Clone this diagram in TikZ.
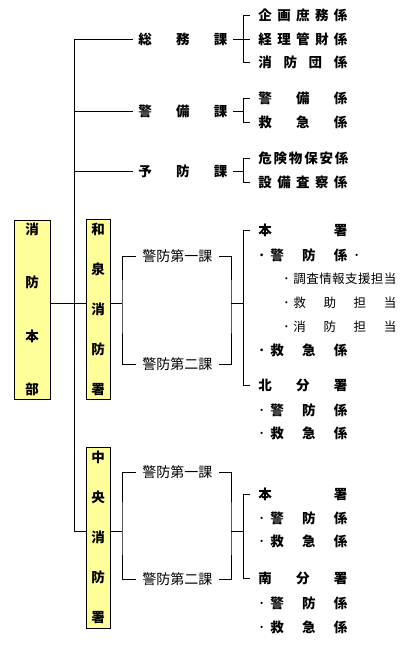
\documentclass[tikz,border=0pt]{standalone}
\usepackage{fontspec}
\setmainfont{Noto Sans CJK JP}
\usepackage{xcolor}
\usepackage{tikz}
\usetikzlibrary{positioning, calc}

\definecolor{boxyellow}{HTML}{FFFF99}

\makeatletter
\newcommand{\evenly}[2]{\makebox[#1][s]{\def\ev@sep{}\@tfor\ev@c:=#2\do{\ev@sep\ev@c\def\ev@sep{\hfill}}}}
\makeatother

\begin{document}
\begin{tikzpicture}[
    x=1pt, y=-1pt,
    line width=0.8pt,
    hq/.style={rectangle, draw, fill=boxyellow, inner sep=0pt, minimum width=36pt, minimum height=179pt, align=center, font=\bfseries\fontsize{13.5}{53.3}\selectfont},
    sho/.style={rectangle, draw, fill=boxyellow, inner sep=0pt, minimum width=24pt, minimum height=180pt, align=center, font=\bfseries\fontsize{13.5}{40}\selectfont},
    ka/.style={anchor=west, inner xsep=5pt, inner ysep=1pt, font=\bfseries\fontsize{13.5}{16}\selectfont},
    kakari/.style={anchor=west, inner xsep=8pt, inner ysep=1pt, font=\bfseries\fontsize{13.5}{16}\selectfont},
    tanto/.style={anchor=west, inner sep=0pt, font=\fontsize{12.5}{15}\selectfont},
    keibou/.style={anchor=west, inner xsep=6pt, inner ysep=1pt, font=\fontsize{14}{16}\selectfont}
]
    \useasboundingbox (0,0) rectangle (414,646);

    \node[hq] (honbu) at (32,309.5) {消\\防\\本\\部};
    \node[sho] (izumi) at (98,309) {和\\泉\\消\\防\\署};
    \node[sho, minimum height=181pt] (chuo) at (98,537.5) {中\\央\\消\\防\\署};

    \node[ka] (soumu) at (133,39) {\evenly{89pt}{総務課}};
    \node[ka] (keibi) at (133,111) {\evenly{89pt}{警備課}};
    \node[ka] (yobou) at (133,171) {\evenly{89pt}{予防課}};

    \node[kakari] (kikaku) at (250,15) {\evenly{89pt}{企画庶務係}};
    \node[kakari] (keiri) at (250,39) {\evenly{89pt}{経理管財係}};
    \node[kakari] (dantai) at (250,62) {\evenly{89pt}{消防団係}};
    \node[kakari] (keibikakari) at (250,98) {\evenly{89pt}{警備係}};
    \node[kakari] (kyukyu) at (250,122) {\evenly{89pt}{救急係}};
    \node[kakari] (kiken) at (250,158) {\evenly{90pt}{危険物保安係}};
    \node[kakari] (setsubi) at (250,182) {\evenly{89pt}{設備査察係}};

    \node[keibou] (ik1) at (136,256) {警防第一課};
    \node[keibou] (ik2) at (136,364) {警防第二課};
    \node[keibou] (ck1) at (136,472) {警防第一課};
    \node[keibou] (ck2) at (136,579) {警防第二課};

    \node[kakari] (ihon) at (250,230) {\evenly{89pt}{本署}};
    \node[kakari] (ikeibou) at (250,255) {\makebox[12pt][l]{･}\evenly{77pt}{警防係}\hspace{6pt}{\mdseries･}};
    \node[tanto] (chousa) at (279,279) {\makebox[14pt][c]{･}\evenly{103pt}{調査情報支援担当}};
    \node[tanto] (kyujo) at (279,303) {\makebox[14pt][c]{･}\evenly{103pt}{救助担当}};
    \node[tanto] (shoubou) at (279,327) {\makebox[14pt][c]{･}\evenly{103pt}{消防担当}};
    \node[kakari] (ikyukyu) at (250,350) {\makebox[12pt][l]{･}\evenly{77pt}{救急係}};
    \node[kakari] (kita) at (250,385) {\evenly{89pt}{北分署}};
    \node[kakari] (kkeibou) at (250,410) {\makebox[12pt][l]{\mdseries･}\evenly{77pt}{警防係}};
    \node[kakari] (kkyukyu) at (250,433) {\makebox[12pt][l]{\mdseries･}\evenly{77pt}{救急係}};

    \node[kakari] (chon) at (250,494) {\evenly{89pt}{本署}};
    \node[kakari] (ckeibou) at (250,518) {\makebox[12pt][l]{\mdseries･}\evenly{77pt}{警防係}};
    \node[kakari] (ckyukyu) at (250,541) {\makebox[12pt][l]{\mdseries･}\evenly{77pt}{救急係}};
    \node[kakari] (minami) at (250,578) {\evenly{89pt}{南分署}};
    \node[kakari] (mkeibou) at (250,603) {\makebox[12pt][l]{\mdseries･}\evenly{77pt}{警防係}};
    \node[kakari] (mkyukyu) at (250,627) {\makebox[12pt][l]{\mdseries･}\evenly{77pt}{救急係}};

    \coordinate (trunk) at (74,0);
    \coordinate (rb) at (243,0);
    \coordinate (ij) at (122,303);
    \coordinate (ij2) at (231,303);
    \coordinate (cj) at (122,531);
    \coordinate (cj2) at (231,531);

    \draw (soumu.west) -| (trunk |- cj) -- (chuo.west |- cj);
    \draw (keibi.west) -- (keibi.west -| trunk);
    \draw (yobou.west) -- (yobou.west -| trunk);
    \draw (honbu.east |- ij) -- (izumi.west |- ij);

    \draw (soumu.east) -- (keiri.west);
    \draw (kikaku.west) -| (rb |- dantai.west) -- (dantai.west);
    \draw (keibi.east) -- (keibi.east -| rb);
    \draw (keibikakari.west) -| (rb |- kyukyu.west) -- (kyukyu.west);
    \draw (yobou.east) -- (yobou.east -| rb);
    \draw (kiken.west) -| (rb |- setsubi.west) -- (setsubi.west);

    \draw (izumi.east |- ij) -- (ij);
    \draw (ik1.west) -| (ij) |- (ik2.west);
    \draw (ik1.east) -| (ij2) |- (ik2.east);
    \draw (ij2) -- (ij2 -| rb);
    \draw (ihon.west) -| (rb |- kita.west) -- (kita.west);

    \draw (chuo.east |- cj) -- (cj);
    \draw (ck1.west) -| (cj) |- (ck2.west);
    \draw (ck1.east) -| (cj2) |- (ck2.east);
    \draw (cj2) -- (cj2 -| rb);
    \draw (chon.west) -| (rb |- minami.west) -- (minami.west);
\end{tikzpicture}
\end{document}
